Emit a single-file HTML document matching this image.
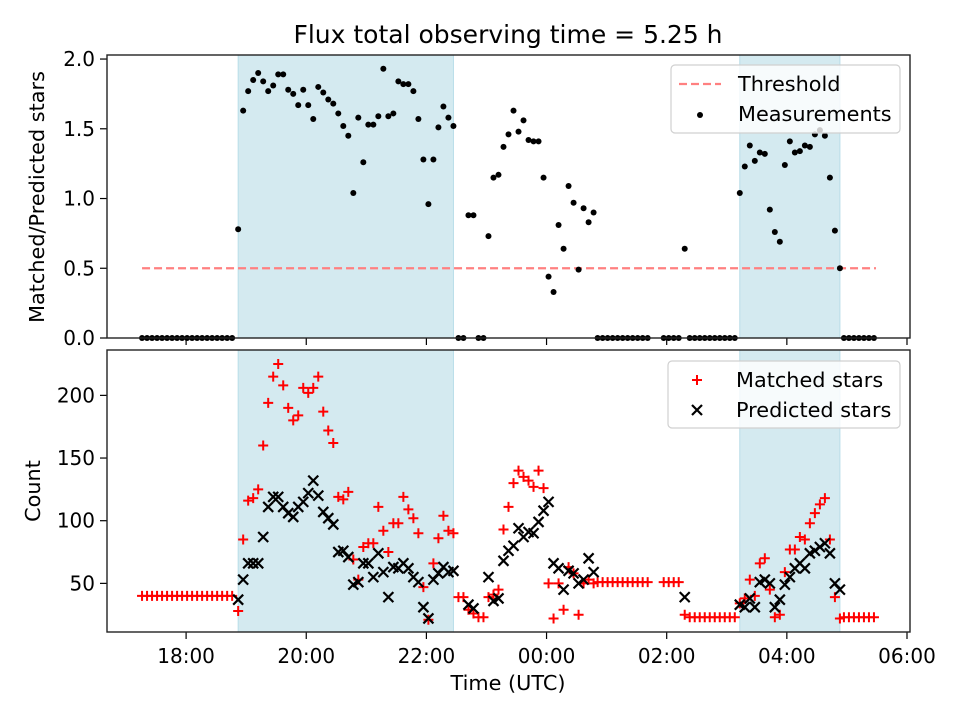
<!DOCTYPE html>
<html><head><meta charset="utf-8"><style>
body{margin:0;background:#fff;}
svg{display:block;font-family:"DejaVu Sans","Liberation Sans",sans-serif;}
</style></head><body>
<svg id="chart" width="960" height="720" viewBox="0 0 960 720" xmlns="http://www.w3.org/2000/svg">
<rect width="960" height="720" fill="#fff"/>
<text x="508" y="43" text-anchor="middle" font-size="25">Flux total observing time = 5.25 h</text>
<g id="top"></g>
<g id="bot"></g>
<text transform="translate(44,197) rotate(-90)" text-anchor="middle" font-size="20.8">Matched/Predicted stars</text>
<text transform="translate(40,491) rotate(-90)" text-anchor="middle" font-size="20.8">Count</text>
<text x="508" y="690" text-anchor="middle" font-size="20.8">Time (UTC)</text>
</svg>
<script>
// times in minutes since 18:00 UTC
const topTimes = [-44,-39,-34,-29,-24,-19,-14,-9,-4,1,6,11,16,21,26,31,36,41,46,
52,57,62,67,72,77,82,87,92,97,102,107,112,117,122,127,132,137,142,147,152,157,162,167,172,177,182,187,192,197,202,207,212,217,222,227,232,237,242,247,252,257,262,267,
272,277,282,287,292,297,302,307,312,317,322,327,332,337,342,347,352,357,362,367,372,377,382,387,392,397,402,407,
411,416,421,426,431,436,441,446,451,456,461,477,482,487,492,498,503,508,513,518,523,528,533,538,543,548,
553,558,563,568,573,578,583,588,593,598,603,608,613,618,623,628,633,638,643,648,653,
657,662,667,672,677,682,687];
const ratioValues = [0,0,0,0,0,0,0,0,0,0,0,0,0,0,0,0,0,0,0,
0.78,1.63,1.77,1.85,1.90,1.84,1.77,1.81,1.89,1.89,1.78,1.75,1.67,1.78,1.67,1.57,1.80,1.76,1.71,1.68,1.61,1.52,1.45,1.04,1.58,1.26,1.53,1.53,1.59,1.93,1.59,1.61,1.84,1.82,1.82,1.77,1.57,1.28,0.96,1.28,1.51,1.66,1.58,1.52,
0,0,0.88,0.88,0,0,0.73,1.15,1.17,1.37,1.46,1.63,1.48,1.56,1.42,1.41,1.41,1.15,0.44,0.33,0.81,0.64,1.09,0.97,0.49,0.93,0.83,0.90,
0,0,0,0,0,0,0,0,0,0,0,0,0,0,0,0.64,0,0,0,0,0,0,0,0,0,0,
1.04,1.23,1.38,1.27,1.33,1.32,0.92,0.76,0.69,1.24,1.41,1.33,1.34,1.38,1.37,1.46,1.49,1.45,1.15,0.77,0.50,
0,0,0,0,0,0,0];
const matchedValues = [40,40,40,40,40,40,40,40,40,40,40,40,40,40,40,40,40,40,40,
28,85,116,118,125,160,194,215,225,208,190,180,184,206,202,206,215,187,172,162,119,117,123,69,53,79,82,82,111,92,75,98,98,119,109,102,90,47,21,66,86,104,92,90,
39,39,29,26,23,23,39,41,45,93,111,130,140,135,132,127,140,126,50,22,50,29,63,58,25,50,53,50,
51,51,51,51,51,51,51,51,51,51,51,51,51,51,51,25,23,23,23,23,23,23,23,23,23,23,
34,38,53,40,66,70,45,23,25,59,77,77,87,85,98,106,113,118,85,39,22,
23,23,23,23,23,23,23];
const predictedValues = [null,null,null,null,null,null,null,null,null,null,null,null,null,null,null,null,null,null,null,
37,53,66,66,66,87,111,119,119,111,106,103,111,115,122,132,120,107,102,97,75,76,71,49,51,66,66,55,74,59,39,63,62,66,62,55,51,31,22,53,58,63,59,60,
null,null,33,30,null,null,55,36,38,68,76,80,94,87,91,90,99,108,115,66,62,45,60,58,50,53,70,59,
null,null,null,null,null,null,null,null,null,null,null,null,null,null,null,39,null,null,null,null,null,null,null,null,null,null,
33,31,38,31,51,53,50,31,37,49,55,62,66,62,74,76,79,82,74,50,45,
null,null,null,null,null,null,null];
const spans = [[52,267],[553,653]];
const threshold = 0.5;
const thresholdRange = [-44,689];
const xTickValues = [0,120,240,360,480,600,720];
const xTickLabels = ["18:00","20:00","22:00","00:00","02:00","04:00","06:00"];
const topYTicks = [0,0.5,1.0,1.5,2.0];
const topYLabels = ["0.0","0.5","1.0","1.5","2.0"];
const botYTicks = [50,100,150,200];
const botYLabels = ["50","100","150","200"];

const NS="http://www.w3.org/2000/svg";
const L=107,R=910;
const xMin=-79,xMax=723;
const xs=v=>L+(v-xMin)/(xMax-xMin)*(R-L);
const T={top:55,bot:338,min:0,max:2.029};
const B={top:350,bot:632,min:11.2,max:236.2};
const ys=(P,v)=>P.bot-(v-P.min)/(P.max-P.min)*(P.bot-P.top);
function mk(tag,attrs,parent){const e=document.createElementNS(NS,tag);for(const k in attrs)e.setAttribute(k,attrs[k]);parent.appendChild(e);return e;}
const gT=document.getElementById('top'), gB=document.getElementById('bot');

function panel(g,P,yt,yl,name,showX){
  spans.forEach((s,i)=>{
    const r=mk('rect',{x:xs(s[0]),y:P.top,width:xs(s[1])-xs(s[0]),height:P.bot-P.top,fill:'#d4eaf0',stroke:'#b8dde8','stroke-width':1},g);
    
    
  });
  yt.forEach((v,i)=>{
    const y=ys(P,v);
    const t=mk('line',{x1:L-7,x2:L,y1:y,y2:y,stroke:'#000','stroke-width':1.2},g);
    
    
    const lb=mk('text',{x:L-12,y:y+7,'text-anchor':'end','font-size':20},g);
    lb.textContent=yl[i];
    
    
  });
  xTickValues.forEach((v,i)=>{
    const x=xs(v);
    const t=mk('line',{x1:x,x2:x,y1:P.bot,y2:P.bot+7,stroke:'#000','stroke-width':1.2},g);
    
    
    if(showX){
      const lb=mk('text',{x:x,y:P.bot+31,'text-anchor':'middle','font-size':20},g);
      lb.textContent=xTickLabels[i];
      
      
    }
  });
}
panel(gT,T,topYTicks,topYLabels,'top',false);
panel(gB,B,botYTicks,botYLabels,'bottom',true);

const th=mk('line',{x1:xs(thresholdRange[0]),x2:xs(thresholdRange[1]),y1:ys(T,threshold),y2:ys(T,threshold),stroke:'#ff8080','stroke-width':2.2,'stroke-dasharray':'8,4'},gT);


topTimes.forEach((t,i)=>{
  const c=mk('circle',{cx:xs(t),cy:ys(T,ratioValues[i]),r:3,fill:'#000'},gT);
  
  
});
const s=5;
topTimes.forEach((t,i)=>{
  const x=xs(t);
  if(matchedValues[i]!=null){
    const y=ys(B,matchedValues[i]);
    const p=mk('path',{d:`M${x-s} ${y}H${x+s}M${x} ${y-s}V${y+s}`,stroke:'#ff0000','stroke-width':2,fill:'none'},gB);
    
    
  }
});
topTimes.forEach((t,i)=>{
  const x=xs(t);
  if(predictedValues[i]!=null){
    const y=ys(B,predictedValues[i]);
    const p=mk('path',{d:`M${x-s} ${y-s}L${x+s} ${y+s}M${x-s} ${y+s}L${x+s} ${y-s}`,stroke:'#000','stroke-width':2.2,fill:'none'},gB);
    
    
  }
});
[[gT,T,'top'],[gB,B,'bottom']].forEach(([g,P,n])=>{
  const f=mk('rect',{x:L,y:P.top,width:R-L,height:P.bot-P.top,fill:'none',stroke:'#222','stroke-width':1.4},g);
  
  
});
function legend(g,x,y,w,h,items,name,tx){
  const lg=mk('g',{},g);
  
  
  mk('rect',{x:x,y:y,width:w,height:h,rx:4,fill:'rgba(255,255,255,0.8)',stroke:'#d0d0d0','stroke-width':1.2},lg);
  items.forEach((it,i)=>{
    const cy=y+19+i*30;
    const mx=x+29;
    if(it.k==='dash'){mk('line',{x1:mx-21,x2:mx+21,y1:cy,y2:cy,stroke:'#ff8080','stroke-width':2.2,'stroke-dasharray':'8,4'},lg);}
    if(it.k==='dot'){mk('circle',{cx:mx,cy:cy+1,r:3,fill:'#000'},lg);}
    if(it.k==='plus'){mk('path',{d:`M${mx-s} ${cy}H${mx+s}M${mx} ${cy-s}V${cy+s}`,stroke:'#f00','stroke-width':2},lg);}
    if(it.k==='x'){mk('path',{d:`M${mx-s} ${cy-s}L${mx+s} ${cy+s}M${mx-s} ${cy+s}L${mx+s} ${cy-s}`,stroke:'#000','stroke-width':2.2},lg);}
    const t=mk('text',{x:tx,y:cy+7,'font-size':20.8},lg);
    t.textContent=it.t;
    const e=lg.lastChild;
    
    
  });
}
legend(gT,671,65,229,68,[{k:'dash',t:'Threshold'},{k:'dot',t:'Measurements'}],'top-legend',738);
legend(gB,668,361,232,67,[{k:'plus',t:'Matched stars'},{k:'x',t:'Predicted stars'}],'bottom-legend',736);
</script>
</body></html>
